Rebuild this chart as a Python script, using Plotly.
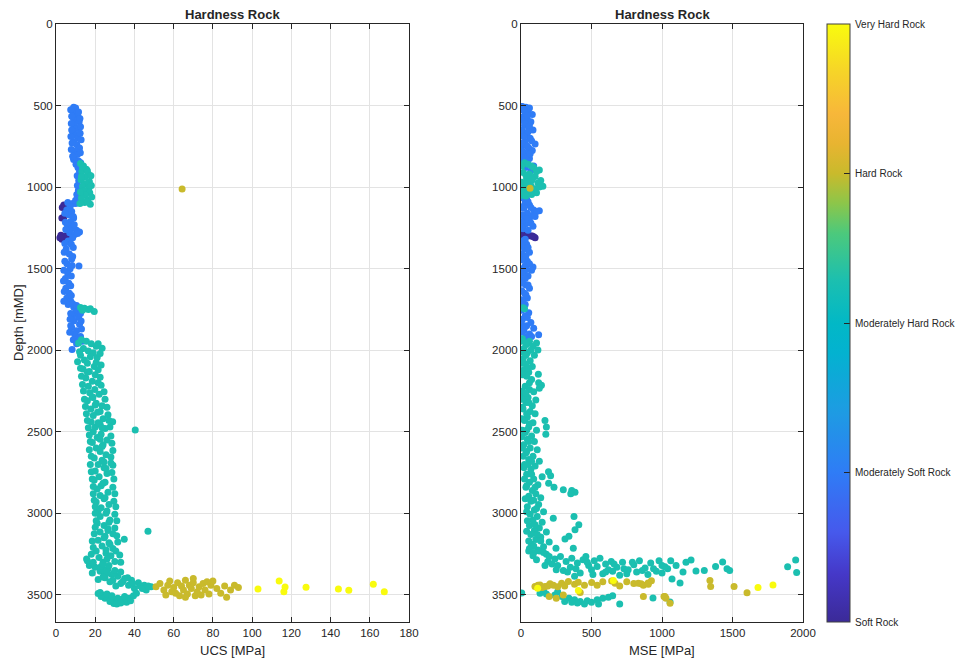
import plotly.graph_objects as go

# ---------------- data: UCS panel (ucs [MPa], depth [mMD]) ----------------
ucs_soft = [4.0, 3.2, 4.6, 3.0, 4.0, 2.5, 3.5, 4.5, 3.0, 5.0, 2.0, 6.0]
dep_ucs_soft = [1110, 1125, 1115, 1190, 1185, 1295, 1305, 1300, 1320, 1310, 1310, 1300]

ucs_msoft = [9.0, 10.0, 8.5, 9.5, 11.0, 8.8, 10.2, 11.8, 9.3, 10.5, 8.6, 9.9, 11.3, 9.0, 10.6, 12.0, 9.6, 10.9,
             8.9, 11.5, 10.2, 9.0, 11.2, 12.0, 10.8, 11.6, 10.9, 11.4, 10.6, 11.9,
             6.0, 8.5, 10.0, 7.2, 5.5, 8.0, 6.5, 9.0, 7.5, 5.8, 8.2, 10.5, 12.0, 7.0, 9.5, 6.2, 7.8, 5.2, 6.8,
             8.0, 5.6, 7.2, 11.7, 6.0, 4.8, 6.5, 5.0, 6.8, 5.5, 7.5, 6.2, 9.0, 11.0,
             10.0, 8.5, 11.5, 9.0, 12.0, 8.0, 10.5, 9.5, 12.5, 8.8, 11.0, 8.2, 10.5,
             7.5, 11.5, 8.0, 12.2, 7.8, 12.5, 8.0, 12.3, 7.6, 12.8, 8.2, 7.8, 12.4, 8.5, 12.6, 10.0, 11.5,
             4.5, 8.8, 4.8, 9.3, 5.0, 11.0, 8.5, 4.5, 8.8, 4.2, 8.5, 4.5, 8.2, 4.0, 7.8, 3.8, 7.5, 4.2, 7.8, 4.0,
             8.5, 10.5, 7.5, 12.5, 7.2, 12.8, 7.5, 13.0, 7.0, 11.5, 13.5]
dep_ucs_msoft = [510, 515, 530, 545, 560, 575, 590, 600, 620, 640, 660, 680, 700, 720, 740, 760, 780, 800,
                 820, 840, 860, 830, 880, 905, 930, 960, 990, 1020, 1045, 1065,
                 1095, 1100, 1100, 1120, 1140, 1150, 1170, 1190, 1210, 1230, 1250, 1265, 1275, 1280, 1290, 1330,
                 1350, 1380, 1410, 1440, 1470, 1500, 1483, 1530, 1560, 1590, 1620, 1650, 1680, 1700, 1720, 1735,
                 1740, 1765, 1785, 1800, 1820, 1840, 1860, 1880, 1900, 1915, 1935, 1950, 1995, 1960,
                 525, 540, 565, 580, 610, 630, 650, 670, 690, 710, 730, 770, 790, 810, 850, 1080, 1090,
                 1160, 1180, 1215, 1230, 1260, 1285, 1310, 1345, 1370, 1400, 1425, 1455, 1480, 1510, 1545, 1575,
                 1605, 1640, 1665, 1700, 1715, 1725, 1775, 1775, 1810, 1820, 1850, 1870, 1890, 1925, 1945]

ucs_mhard = [12.5, 14.0, 15.5, 13.2, 16.5, 14.8, 12.8, 17.0, 15.2, 13.5, 16.8, 14.2, 17.2, 15.0, 13.0, 16.2, 14.6,
             17.5, 12.2, 12.5, 14.5, 16.5, 19.5, 17.5, 13.5,
             13.5, 16.0, 17.8, 13.0, 18.0, 12.5, 18.2, 16.0,
             13.0, 15.5, 18.0, 20.5, 23.5, 14.0, 16.5, 19.0, 12.5, 17.5, 21.0, 14.5, 23.0, 16.0, 19.5, 13.8, 17.0,
             20.0, 15.2, 18.5, 21.5, 16.5, 19.8, 17.2, 22.0, 18.8, 16.0, 20.5, 23.5, 17.8, 21.2, 19.0, 24.0, 18.0,
             28.9, 22.5, 20.0, 25.0, 40.4, 19.0, 23.0, 21.0, 26.0, 18.5, 24.0, 20.5, 22.5, 25.5, 19.5, 23.5, 28.0,
             21.5, 24.5, 20.0, 26.0, 22.0, 19.5, 25.0, 23.0, 21.0, 26.5, 22.5, 24.5, 20.5, 27.0, 23.0, 21.5, 25.5,
             22.5, 27.5, 21.0, 24.5, 26.5, 46.9, 22.5, 31.0, 25.0, 34.8, 21.5, 27.0, 23.5, 29.0, 20.5, 25.5, 28.0,
             22.0, 15.6, 30.0, 24.0, 17.0, 20.0, 26.5, 22.5, 18.5, 28.5, 31.5, 25.0, 35.0, 21.5, 38.5, 27.5, 42.0,
             33.0, 45.0, 48.5, 30.5, 40.0, 46.0, 25.0, 36.5, 29.5,
             21.5, 24.0, 26.5, 28.0, 30.0, 32.0, 29.5, 33.5, 35.5, 37.5, 39.5, 41.0, 25.0, 27.5, 31.0, 34.0, 23.0, 36.0,
             11.5, 21.5, 12.0, 22.5, 11.0, 20.5, 12.5, 21.5, 13.0, 22.5, 13.5, 23.0, 14.0, 24.5, 14.5, 25.0, 15.0,
             26.0, 15.5, 26.5, 16.0, 27.0, 16.5, 27.5, 17.0, 28.0, 17.5, 28.5, 17.0, 29.0, 18.0, 28.0, 17.5, 29.0,
             18.0, 28.5, 18.5, 29.5, 19.0, 29.0, 19.0, 30.0, 19.5, 29.5, 20.0, 30.5, 20.0, 30.0, 20.5, 31.0, 20.0,
             30.0, 19.5, 29.0, 18.5, 31.5, 19.0, 30.5, 18.0, 32.5, 16.0, 33.0, 19.0, 24.0, 27.0, 23.0, 30.0, 33.0,
             26.0, 34.0, 37.0, 43.0, 29.0, 24.0, 39.0, 44.0, 47.0, 26.0, 28.5, 31.5, 33.0, 35.0, 38.0, 22.5,
             16.0, 18.5, 20.0, 21.5, 22.5, 23.5, 24.5, 25.5, 24.0, 25.0, 26.0, 27.0, 26.5, 24.5, 27.5, 25.5, 26.0,
             24.0, 23.5, 22.5]
dep_ucs_mhard = [855, 870, 890, 905, 920, 940, 955, 965, 980, 995, 1005, 1020, 1035, 1050, 1065, 1080, 1095,
                 1105, 1100, 1738, 1742, 1750, 1762, 1745, 1755,
                 880, 900, 930, 935, 990, 1030, 1060, 1090,
                 1935, 1945, 1960, 1975, 1988, 1990, 2005, 2015, 2030, 2040, 2045, 2060, 2090, 2080, 2100, 2115, 2130,
                 2150, 2170, 2190, 2200, 2220, 2240, 2260, 2270, 2290, 2310, 2325, 2340, 2360, 2380, 2400, 2420, 2440,
                 2439, 2455, 2470, 2480, 2489, 2500, 2515, 2535, 2550, 2565, 2580, 2600, 2620, 2640, 2660, 2675, 2692,
                 2700, 2720, 2740, 2755, 2775, 2795, 2810, 2830, 2850, 2870, 2890, 2910, 2930, 2945, 2965, 2985, 3000,
                 3020, 3040, 3060, 3075, 3095, 3110, 3115, 3137, 3140, 3159, 3165, 3180, 3200, 3215, 3230, 3245, 3260,
                 3270, 3280, 3295, 3300, 3320, 3330, 3340, 3355, 3365, 3375, 3385, 3395, 3400, 3405, 3410, 3420, 3425,
                 3430, 3440, 3450, 3445, 3460, 3470, 3378, 3395, 3365,
                 3492, 3500, 3510, 3525, 3535, 3545, 3552, 3540, 3530, 3520, 3505, 3490, 3520, 3540, 3555, 3525, 3510, 3545,
                 1955, 1960, 2010, 2020, 2070, 2075, 2110, 2120, 2160, 2165, 2210, 2215, 2250, 2255, 2300, 2300, 2345,
                 2350, 2390, 2395, 2430, 2430, 2475, 2470, 2520, 2525, 2560, 2570, 2610, 2615, 2650, 2655, 2700, 2705,
                 2745, 2750, 2790, 2790, 2835, 2840, 2880, 2880, 2920, 2925, 2960, 2960, 3000, 3005, 3045, 3045, 3085,
                 3090, 3125, 3125, 3170, 3175, 3210, 3230, 3250, 3255, 3290, 3300, 3300, 3345, 3320, 3325, 3350, 3360,
                 3365, 3420, 3440, 3445, 3410, 3390, 3430, 3460, 3445, 3495, 3505, 3520, 3550, 3510, 3535, 3485,
                 2135, 2285, 2335, 2445, 2545, 2590, 2685, 2725, 2815, 2905, 2985, 3055, 3105, 3150, 3190, 3225, 3280,
                 3310, 2475, 2375]

ucs_hard = [51, 53, 55, 57, 58, 60, 61, 62, 63, 64, 65, 66, 67, 68, 69, 70, 71, 72, 73, 75, 76, 78, 79, 80, 82, 84,
            86, 87, 89, 91, 93, 56, 59, 66, 74, 64.3, 70, 77]
dep_ucs_hard = [3450, 3430, 3470, 3440, 3415, 3455, 3490, 3425, 3505, 3445, 3470, 3410, 3495, 3440, 3460, 3425, 3505,
                3480, 3450, 3430, 3470, 3495, 3440, 3415, 3460, 3490, 3445, 3515, 3470, 3440, 3455, 3500, 3480, 3515,
                3500, 1011, 3400, 3420]

ucs_vhard = [103, 113.8, 116.8, 116.2, 127.5, 144, 149.3, 161.8, 167.4]
dep_ucs_vhard = [3463, 3414, 3451, 3481, 3453, 3463, 3471, 3434, 3481]

# ---------------- data: MSE panel (mse [MPa], depth [mMD]) ----------------
mse_soft = [10, 30, 50, 70, 90, 100, 20, 80]
dep_mse_soft = [1285, 1290, 1295, 1300, 1305, 1310, 1300, 1300]

mse_msoft = [10, 35, 60, 20, 50, 80, 15, 45, 70, 25, 55, 85, 10, 40, 65, 30, 100, 15, 55, 80, 35, 20, 60, 45, 90, 30,
             70, 50, 15, 40, 30, 60, 20, 90, 130, 110, 45, 75, 25, 60, 35, 85, 15, 50, 10, 40, 25, 60, 15, 45, 30,
             85, 75, 20, 50, 10, 35, 60, 25, 45, 15, 55, 30, 10, 70, 40, 90, 20, 60, 125, 35, 15,
             5, 25, 45, 5, 30, 60, 5, 50, 20, 75, 5, 45, 10, 65, 5, 40, 10, 50, 5, 70, 5, 100, 40, 5, 70, 5, 30, 5,
             50, 5, 35, 5, 60, 5, 40, 5, 30, 5, 50, 5, 35, 5, 30, 5, 45, 5, 25, 5, 75, 45]
dep_mse_msoft = [505, 510, 515, 530, 545, 555, 570, 585, 600, 620, 640, 650, 665, 680, 700, 720, 735, 745, 760, 775,
                 790, 810, 825, 840, 870, 880, 900, 930, 1050, 1075, 1095, 1110, 1130, 1140, 1145, 1150, 1160, 1175,
                 1190, 1205, 1225, 1240, 1255, 1265, 1330, 1350, 1380, 1400, 1430, 1455, 1480, 1490, 1510, 1520, 1545,
                 1570, 1600, 1620, 1650, 1680, 1710, 1770, 1790, 1810, 1830, 1850, 1865, 1880, 1900, 1905, 1920, 1935,
                 520, 535, 560, 590, 610, 625, 650, 660, 690, 715, 730, 750, 780, 795, 830, 850, 1065, 1090, 1120, 1125,
                 1170, 1180, 1195, 1215, 1220, 1245, 1320, 1360, 1370, 1410, 1420, 1445, 1470, 1500, 1505, 1530, 1560,
                 1590, 1600, 1635, 1660, 1690, 1720, 1755, 1800, 1840, 1860, 1890, 1915, 1940]

mse_mhard = [25, 50, 90, 130, 15, 60, 100, 40, 140, 120, 70, 155, 20, 95, 50, 110, 10, 75, 15, 25,
             10, 60, 110, 40, 85, 20, 70, 120, 45, 95, 15, 65, 35, 80, 20, 55, 123, 40, 75, 125, 145, 30, 130, 60,
             90, 20, 50, 105, 35, 80, 15, 65, 100, 45, 25, 170, 85, 180, 55, 110, 176, 30, 75, 45, 95, 20, 65, 115,
             35, 85, 55, 130, 25, 100, 70, 195, 210, 40, 150, 90, 60, 196, 120, 35, 234, 300, 360, 383, 353, 80, 105,
             55, 140, 70, 125, 45, 95, 160, 65, 376, 115, 229, 85, 150, 410, 60, 130, 95, 383, 180, 70, 140, 340,
             312, 105, 200, 75, 160, 248, 371, 120, 90, 180, 55, 140,
             240, 280, 320, 360, 400, 440, 480, 520, 560, 600, 640, 680, 720, 760, 800, 840, 880, 920, 960, 1000,
             1040, 979, 1062, 1021, 1071, 1128, 1149, 1206, 1241, 1430, 1461, 1480, 1891, 1948, 1955, 300, 350, 420,
             500, 580, 650, 700, 750, 820, 900, 460, 540, 620, 380, 260, 220,
             5, 135, 180, 240, 290, 340, 380, 420, 470, 500, 540, 580, 620, 650, 700, 450, 400, 360, 936, 1057, 160,
             260, 310, 550,
             5, 75, 110, 35, 80, 5, 45, 130, 5, 35, 5, 35, 5, 35, 5, 50, 10, 60, 10, 35, 5, 55, 10, 40, 5, 60, 10, 40,
             5, 55, 10, 40, 15, 75, 20, 50, 25, 75, 40, 100, 30, 90, 40, 110, 45, 100, 40, 115, 55, 90, 60, 130, 85,
             110, 160, 200, 190, 170,
             250, 330, 390, 470, 510, 600, 660, 730, 790, 860, 940, 1100, 1170, 1300, 1380, 1000]
dep_mse_mhard = [850, 860, 880, 895, 910, 920, 935, 945, 960, 975, 990, 995, 1005, 1010, 1025, 1035, 1050, 1045,
                 1740, 1745,
                 1930, 1945, 1955, 1965, 1975, 1990, 2000, 1998, 2015, 2030, 2050, 2065, 2085, 2100, 2120, 2135, 2147,
                 2160, 2180, 2200, 2215, 2220, 2233, 2240, 2255, 2275, 2290, 2305, 2320, 2340, 2360, 2375, 2390, 2410,
                 2430, 2430, 2445, 2470, 2470, 2490, 2515, 2505, 2525, 2545, 2560, 2580, 2600, 2610, 2630, 2650, 2670,
                 2680, 2700, 2710, 2730, 2745, 2770, 2760, 2775, 2790, 2810, 2815, 2825, 2840, 2840, 2855, 2860, 2870,
                 2880, 2860, 2880, 2895, 2905, 2925, 2945, 2960, 2980, 2990, 3005, 3020, 3020, 3030, 3040, 3055, 3070,
                 3075, 3090, 3105, 3100, 3115, 3130, 3145, 3140, 3157, 3160, 3175, 3190, 3205, 3214, 3214, 3225, 3240,
                 3250, 3230, 3170,
                 3280, 3265, 3295, 3275, 3305, 3285, 3320, 3290, 3275, 3310, 3295, 3330, 3300, 3345, 3315, 3290, 3335,
                 3305, 3355, 3320, 3340, 3290, 3290, 3328, 3402, 3427, 3359, 3286, 3353, 3298, 3340, 3351, 3328, 3286,
                 3363, 3350, 3330, 3365, 3345, 3370, 3355, 3380, 3370, 3360, 3375, 3265, 3325, 3345, 3385, 3320, 3310,
                 3488, 3490, 3495, 3500, 3510, 3520, 3530, 3540, 3535, 3545, 3530, 3520, 3515, 3505, 3555, 3555, 3550,
                 3545, 3519, 3543, 3475, 3480, 3540, 3555,
                 870, 870, 905, 925, 955, 970, 980, 1000, 1030, 1055, 1945, 1955, 2010, 2030, 2080, 2110, 2150, 2200,
                 2250, 2265, 2300, 2320, 2350, 2390, 2420, 2450, 2490, 2490, 2530, 2560, 2600, 2620, 2650, 2680, 2720,
                 2700, 2790, 2760, 2830, 2840, 2910, 2920, 2990, 2970, 3045, 3070, 3110, 3130, 3170, 3200, 3215, 3230,
                 3260, 3285, 3240, 3265, 3295, 3320,
                 3345, 3360, 3340, 3300, 3375, 3360, 3310, 3340, 3300, 3350, 3340, 3320, 3300, 3350, 3325, 3365]

mse_hard = [64, 99, 120, 135, 150, 170, 190, 206, 230, 260, 288, 310, 336, 380, 406, 450, 501, 540, 580, 643, 667,
            700, 750, 800, 832, 852, 868, 901, 925, 903, 1340, 1345, 1511, 1603, 1014, 1028, 868, 1021, 1057, 300,
            420, 200, 250]
dep_mse_hard = [1007, 3449, 3440, 3439, 3455, 3449, 3445, 3432, 3440, 3450, 3428, 3445, 3418, 3435, 3422, 3440,
                3424, 3440, 3420, 3415, 3428, 3445, 3420, 3430, 3428, 3431, 3440, 3427, 3413, 3435, 3412, 3449, 3449,
                3486, 3510, 3520, 3510, 3510, 3551, 3500, 3485, 3510, 3520]

mse_vhard = [118, 407, 655, 1681, 1787]
dep_mse_vhard = [3459, 3473, 3412, 3455, 3439]

# hardness class value per group (colour axis)
class_values = [0, 1, 2.28, 3, 4]
class_labels = ["Soft Rock", "Moderately Soft Rock", "Moderately Hard Rock", "Hard Rock", "Very Hard Rock"]
class_ticks = [0, 1, 2, 3, 4]

parula = [
    [0.00, "#3b2a98"], [0.08, "#4538c8"], [0.15, "#4659ec"], [0.25, "#2f7cf6"],
    [0.35, "#1e9be3"], [0.45, "#03b2d0"], [0.50, "#02b8c6"], [0.57, "#1bbfb0"],
    [0.65, "#4cc97c"], [0.70, "#8cc64a"], [0.75, "#c9ba2c"], [0.80, "#e8b431"],
    [0.85, "#f7b73a"], [0.92, "#f6d428"], [1.00, "#f9fb0e"],
]


def assemble(groups):
    xs, ys, cs = [], [], []
    for (gx, gy), cv in zip(groups, class_values):
        xs += gx
        ys += gy
        cs += [cv] * len(gx)
    return xs, ys, cs


ux, uy, uc = assemble([(ucs_soft, dep_ucs_soft), (ucs_msoft, dep_ucs_msoft), (ucs_mhard, dep_ucs_mhard),
                       (ucs_hard, dep_ucs_hard), (ucs_vhard, dep_ucs_vhard)])
mx, my, mc = assemble([(mse_soft, dep_mse_soft), (mse_msoft, dep_mse_msoft), (mse_mhard, dep_mse_mhard),
                       (mse_hard, dep_mse_hard), (mse_vhard, dep_mse_vhard)])

W, H = 958, 662
FONT = "Liberation Sans, Arial, Helvetica, sans-serif"
TXT = "#262626"
CB_TOP, CB_BOT = 24, 622

fig = go.Figure()
fig.add_trace(go.Scatter(
    x=ux, y=uy, mode="markers", xaxis="x", yaxis="y", showlegend=False,
    marker=dict(size=7, color=uc, colorscale=parula, cmin=0, cmax=4, line=dict(width=0),
                showscale=True,
                colorbar=dict(x=827 / W, xanchor="left", xref="paper", y=1 - CB_BOT / H, yanchor="bottom",
                              len=(CB_BOT - CB_TOP) / H, lenmode="fraction", thickness=23, thicknessmode="pixels",
                              xpad=0, ypad=0, outlinewidth=1, outlinecolor="#404040",
                              tickmode="array", tickvals=class_ticks, showticklabels=False,
                              ticks="inside", ticklen=6, tickcolor="#262626")),
))
fig.add_trace(go.Scatter(
    x=mx, y=my, mode="markers", xaxis="x2", yaxis="y2", showlegend=False,
    marker=dict(size=7, color=mc, colorscale=parula, cmin=0, cmax=4, line=dict(width=0), showscale=False),
))

axis_common = dict(showgrid=True, gridcolor="#e3e3e3", gridwidth=1, zeroline=False,
                   showline=True, linecolor="#262626", linewidth=1, mirror="ticks",
                   ticks="inside", ticklen=5, tickcolor="#262626",
                   tickfont=dict(size=11.5, color=TXT, family=FONT), automargin=False)

fig.update_layout(
    width=W, height=H, autosize=False,
    margin=dict(l=0, r=0, t=0, b=0),
    paper_bgcolor="white", plot_bgcolor="white",
    font=dict(family=FONT, color=TXT),
    xaxis=dict(domain=[56 / W, 409 / W], range=[0, 180], tickmode="array",
               tickvals=[0, 20, 40, 60, 80, 100, 120, 140, 160, 180], anchor="y", **axis_common),
    yaxis=dict(domain=[1 - 622 / H, 1 - 24 / H], range=[3666, 0], tickmode="array",
               tickvals=[0, 500, 1000, 1500, 2000, 2500, 3000, 3500], anchor="x", **axis_common),
    xaxis2=dict(domain=[521 / W, 803 / W], range=[0, 2000], tickmode="array",
                tickvals=[0, 500, 1000, 1500, 2000], anchor="y2", **axis_common),
    yaxis2=dict(domain=[1 - 622 / H, 1 - 24 / H], range=[3666, 0], tickmode="array",
                tickvals=[0, 500, 1000, 1500, 2000, 2500, 3000, 3500], anchor="x2", **axis_common),
)

ann = [
    dict(text="<b>Hardness Rock</b>", x=(56 + 409) / 2 / W, y=1 - 14 / H, size=13),
    dict(text="<b>Hardness Rock</b>", x=(521 + 803) / 2 / W, y=1 - 14 / H, size=13),
    dict(text="UCS [MPa]", x=(56 + 409) / 2 / W, y=1 - 650 / H, size=13),
    dict(text="MSE [MPa]", x=(521 + 803) / 2 / W, y=1 - 650 / H, size=13),
    dict(text="Depth [mMD]", x=18 / W, y=1 - 323 / H, textangle=-90, size=13),
]
for a in ann:
    fig.add_annotation(xref="paper", yref="paper", xanchor="center", yanchor="middle", showarrow=False,
                       text=a["text"], x=a["x"], y=a["y"], textangle=a.get("textangle", 0),
                       font=dict(family=FONT, color=TXT, size=a["size"]))

# colorbar tick labels placed beside the bar
for tv, lab in zip(class_ticks, class_labels):
    ypx = CB_BOT - (CB_BOT - CB_TOP) * tv / 4
    fig.add_annotation(xref="paper", yref="paper", x=853 / W, y=1 - ypx / H, xanchor="left", yanchor="middle",
                       showarrow=False, text=lab, font=dict(family=FONT, color=TXT, size=10))

fig.write_html("out.html")
